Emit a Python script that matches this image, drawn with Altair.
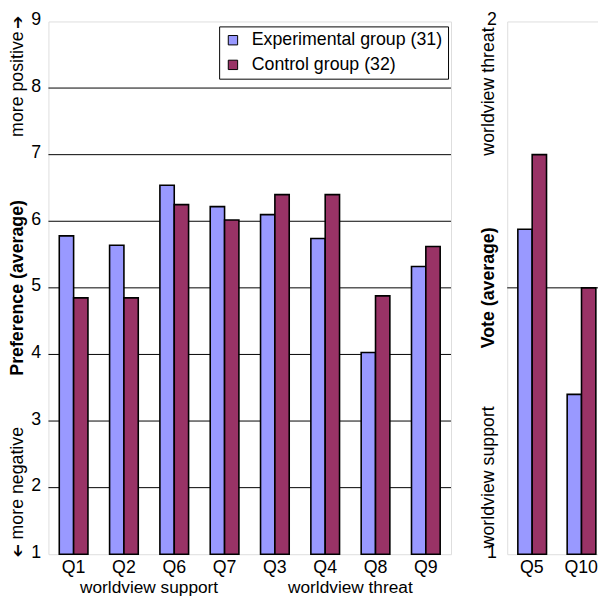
import altair as alt
import pandas as pd

FONT = "Liberation Sans"
groups = ["Experimental group (31)", "Control group (32)"]
group_colors = ["#9999FF", "#993366"]

left_questions = ["Q1", "Q2", "Q6", "Q7", "Q3", "Q4", "Q8", "Q9"]
left_experimental = [5.78, 5.64, 6.54, 6.22, 6.10, 5.74, 4.03, 5.32]
left_control = [4.85, 4.85, 6.25, 6.02, 6.40, 6.40, 4.88, 5.62]
left_ticks = [1, 2, 3, 4, 5, 6, 7, 8, 9]
left_grid = [2, 3, 4, 5, 6, 7, 8]

right_questions = ["Q5", "Q10"]
right_experimental = [1.61, 1.30]
right_control = [1.75, 1.50]
right_ticks = [1, 2]
right_grid = [1.5]

group_label_anchor = ["Q2", "Q4"]
group_label_text = ["worldview support", "worldview threat"]

LW, LH = 408, 540
RW, RH = 100, 540
FS = 18
ARROW = "\u2794"


def long_df(questions, exp, ctrl):
    rows = []
    for q, e, c in zip(questions, exp, ctrl):
        rows.append({"question": q, "group": groups[0], "value": e})
        rows.append({"question": q, "group": groups[1], "value": c})
    return pd.DataFrame(rows)


def rot_text(label, x, y, align, bold=False, angle=270, size=FS):
    return alt.Chart(pd.DataFrame({"t": [label]})).mark_text(
        angle=angle, align=align, baseline="middle", font=FONT, fontSize=size,
        fontWeight="bold" if bold else "normal", color="black"
    ).encode(x=alt.value(x), y=alt.value(y), text="t:N")


def panel(questions, exp, ctrl, ticks, grid, domain, label_pad, legend):
    df = long_df(questions, exp, ctrl)
    yscale = alt.Scale(domain=domain, nice=False, zero=False)
    yaxis = alt.Axis(values=ticks, title=None, grid=False, ticks=False, domain=False,
                     format="d", labelFont=FONT, labelFontSize=FS, labelOffset=-2,
                     labelPadding=label_pad, labelColor="black")
    xscale = alt.Scale(paddingInner=0.43, paddingOuter=0.215)
    xaxis = alt.Axis(title=None, labelAngle=0, ticks=False, domain=False,
                     labelFont=FONT, labelFontSize=FS, labelPadding=5, labelColor="black")
    grid_layer = alt.Chart(pd.DataFrame({"v": grid})).mark_rule(
        color="black", strokeWidth=1
    ).encode(y=alt.Y("v:Q", scale=yscale, axis=yaxis))
    bars = alt.Chart(df).mark_bar(stroke="black", strokeWidth=1.6).encode(
        x=alt.X("question:N", sort=questions, scale=xscale, axis=xaxis),
        xOffset=alt.XOffset("group:N", sort=groups),
        y=alt.Y("value:Q", scale=yscale, axis=yaxis),
        y2=alt.datum(domain[0]),
        color=alt.Color("group:N", scale=alt.Scale(domain=groups, range=group_colors),
                        legend=legend),
    )
    return grid_layer, bars, xscale, xaxis


legend = alt.Legend(orient="none", legendX=173, legendY=5, title=None,
                    labelFont=FONT, labelFontSize=FS, labelColor="black",
                    symbolType="square", symbolSize=90, symbolStrokeColor="black",
                    symbolStrokeWidth=1, symbolOpacity=1, strokeColor="black",
                    fillColor="white", padding=5, rowPadding=7, labelOffset=10,
                    labelLimit=400)

g_l, b_l, xs_l, xa_l = panel(left_questions, left_experimental, left_control,
                             left_ticks, left_grid, [1, 9], 8, legend)

group_labels = alt.Chart(pd.DataFrame({"question": group_label_anchor,
                                       "label": group_label_text})).mark_text(
    dx=LW / 8 / 2, font=FONT, fontSize=17.5, baseline="alphabetic", align="center", color="black"
).encode(
    x=alt.X("question:N", sort=left_questions, scale=xs_l, axis=xa_l),
    y=alt.value(LH + 39),
    text="label:N",
)

left = alt.layer(
    g_l, b_l, group_labels,
    rot_text("Preference (average)", -31, LH / 2, "center", bold=True),
    rot_text("more positive", -31, 10, "right"),
    rot_text(ARROW, -31, 1, "center", angle=270, size=16),
    rot_text("more negative", -31, LH - 15, "left"),
    rot_text(ARROW, -31, LH - 4, "center", angle=90, size=16),
).properties(width=LW, height=LH)

g_r, b_r, xs_r, xa_r = panel(right_questions, right_experimental, right_control,
                             right_ticks, right_grid, [1, 2], 11, None)

right = alt.layer(
    g_r, b_r,
    rot_text("Vote (average)", -18, RH / 2, "center", bold=True),
    rot_text("worldview threat", -18, 6, "right"),
    rot_text("worldview support", -18, RH - 6, "left"),
).properties(width=RW, height=RH)

chart = alt.hconcat(left, right, spacing=28).resolve_legend(color="independent").properties(
    autosize=alt.AutoSizeParams(type="none"),
    padding={"left": 41, "top": 6, "right": 557, "bottom": 582},
).configure_view(stroke="#8c8c8c", strokeWidth=1).configure(background="white")

chart.save("out.html", embed_options={"renderer": "svg", "actions": False})
